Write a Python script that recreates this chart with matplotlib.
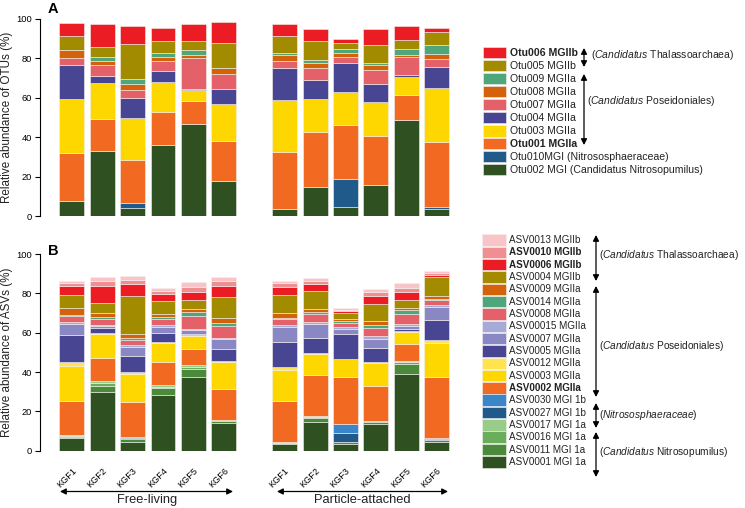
import numpy as np
import matplotlib
matplotlib.use('Agg')
import matplotlib.pyplot as plt
from matplotlib.patches import Rectangle

plt.rcParams['font.family'] = ['Liberation Sans', 'DejaVu Sans']
plt.rcParams['mathtext.fontset'] = 'custom'
plt.rcParams['mathtext.rm'] = 'Liberation Sans'
plt.rcParams['mathtext.it'] = 'Liberation Sans:italic'

samples = ['KGF1', 'KGF2', 'KGF3', 'KGF4', 'KGF5', 'KGF6'] * 2
groups = ['Free-living', 'Particle-attached']

# panel A, stacked bottom -> top
otu_names = ['Otu002 MGI (Candidatus Nitrosopumilus)', 'Otu010MGI (Nitrososphaeraceae)',
             'Otu001 MGIIa', 'Otu003 MGIIa', 'Otu004 MGIIa', 'Otu007 MGIIa',
             'Otu008 MGIIa', 'Otu009 MGIIa', 'Otu005 MGIIb', 'Otu006 MGIIb']
otu_bold = ['Otu001 MGIIa', 'Otu006 MGIIb']
otu_colors = ['#2f5020', '#1f5a8a', '#f26a22', '#fed700', '#484593', '#e5616a',
              '#d4620a', '#4ea67a', '#a38b00', '#ec1c24']
otu002 = [7.8, 33.2, 4.2, 36.0, 46.5, 17.9, 3.6, 14.9, 4.4, 15.7, 48.9, 3.6]
otu010 = [0, 0, 2.2, 0, 0, 0, 0, 0, 14.6, 0, 0, 0.8]
otu001 = [24.2, 16.2, 21.9, 17.0, 11.7, 20.2, 29.1, 27.7, 27.4, 24.9, 12.5, 33.3]
otu003 = [27.4, 18.3, 21.6, 14.9, 5.8, 18.6, 26.4, 16.8, 16.4, 17.4, 9.3, 27.3]
otu004 = [17.4, 3.4, 9.8, 5.7, 0.5, 7.8, 16.2, 9.6, 15.0, 9.2, 1.0, 10.5]
otu007 = [3.6, 5.5, 4.3, 5.3, 15.5, 7.6, 3.4, 6.1, 2.9, 7.1, 8.8, 4.2]
otu008 = [3.9, 2.1, 2.8, 2.0, 1.7, 3.2, 2.9, 2.4, 1.9, 2.2, 1.4, 2.4]
otu009 = [0, 2.0, 2.7, 1.7, 2.6, 0, 1.0, 1.9, 2.2, 1.0, 2.9, 4.5]
otu005 = [7.2, 4.9, 17.8, 6.2, 4.5, 12.3, 8.9, 9.3, 3.2, 9.1, 4.4, 6.6]
otu006 = [6.3, 11.7, 9.1, 6.5, 8.7, 10.7, 6.1, 6.1, 2.0, 8.5, 7.1, 2.2]
otu_vals = [otu002, otu010, otu001, otu003, otu004, otu007, otu008, otu009, otu005, otu006]

# panel B, stacked bottom -> top
asv_names = ['ASV0001 MGI 1a', 'ASV0011 MGI 1a', 'ASV0016 MGI 1a', 'ASV0017 MGI 1a',
             'ASV0027 MGI 1b', 'ASV0030 MGI 1b', 'ASV0002 MGIIa', 'ASV0003 MGIIa',
             'ASV0012 MGIIa', 'ASV0005 MGIIa', 'ASV0007 MGIIa', 'ASV00015 MGIIa',
             'ASV0008 MGIIa', 'ASV0014 MGIIa', 'ASV0009 MGIIa', 'ASV0004 MGIIb',
             'ASV0006 MGIIb', 'ASV0010 MGIIb', 'ASV0013 MGIIb']
asv_bold = ['ASV0002 MGIIa', 'ASV0006 MGIIb', 'ASV0010 MGIIb']
asv_colors = ['#2f5020', '#4a8a3a', '#6aad5a', '#99cc88', '#1f5a8a', '#3a86c8',
              '#f26a22', '#fed700', '#ffe44f', '#484593', '#8a88c4', '#a6aad6',
              '#e5616a', '#4ea67a', '#d4620a', '#a38b00', '#ec1c24', '#f08f92', '#f8c4c8']
asv0001 = [6.6, 30.0, 4.6, 28.3, 37.3, 13.9, 3.4, 14.7, 3.2, 13.4, 39.0, 4.6]
asv0011 = [0.4, 3.1, 1.2, 3.4, 4.1, 1.2, 0.4, 1.7, 1.0, 1.3, 5.1, 0.8]
asv0016 = [0.4, 1.1, 0, 0.8, 1.1, 0.7, 0.3, 0.9, 0, 0.4, 1.0, 0]
asv0017 = [0.4, 1.1, 0, 1.1, 0.9, 0, 0.3, 0.5, 0, 0, 0.7, 0]
asv0027 = [0, 0, 0.6, 0, 0, 0, 0, 0, 5.0, 0, 0, 0.5]
asv0030 = [0, 0, 0.7, 0, 0, 0, 0, 0, 4.5, 0, 0, 0.5]
asv0002 = [17.5, 11.6, 17.8, 11.7, 8.5, 15.6, 20.7, 20.5, 23.6, 18.0, 8.3, 31.2]
asv0003 = [17.9, 12.3, 14.1, 9.4, 6.4, 13.5, 16.1, 10.7, 9.1, 11.3, 6.2, 17.0]
asv0012 = [1.7, 0.6, 0.8, 0.6, 0.7, 0.9, 1.5, 0.5, 0.2, 0.7, 0.4, 1.7]
asv0005 = [14.1, 2.6, 8.3, 4.4, 0.5, 6.1, 12.7, 7.6, 12.6, 6.9, 1.0, 10.1]
asv0007 = [5.4, 1.2, 4.8, 3.4, 1.9, 4.9, 7.3, 7.3, 2.8, 4.9, 1.7, 6.5]
asv00015 = [0.9, 0.3, 0.7, 0.6, 0.6, 0.7, 1.4, 1.0, 0.7, 1.4, 0.8, 1.0]
asv0008 = [3.2, 2.9, 2.7, 3.1, 6.3, 5.9, 2.8, 4.1, 2.4, 4.2, 5.3, 2.7]
asv0014 = [0.7, 1.0, 1.0, 1.0, 2.4, 1.3, 0.7, 1.0, 0.7, 1.6, 1.9, 0.7]
asv0009 = [3.2, 2.0, 1.9, 1.9, 1.2, 2.9, 2.2, 1.4, 1.0, 1.8, 1.0, 1.5]
asv0004 = [6.9, 5.5, 19.4, 6.2, 4.7, 10.4, 9.4, 9.5, 3.2, 8.5, 4.2, 9.3]
asv0006 = [4.6, 8.4, 6.0, 3.9, 4.2, 5.7, 4.2, 3.3, 1.0, 4.2, 3.9, 1.4]
asv0010 = [1.2, 2.7, 2.0, 1.4, 2.4, 2.7, 1.7, 1.7, 0.7, 1.9, 2.2, 0.8]
asv0013 = [1.0, 1.7, 2.2, 1.7, 2.6, 1.7, 1.3, 1.6, 0.8, 1.5, 2.4, 1.1]
asv_vals = [asv0001, asv0011, asv0016, asv0017, asv0027, asv0030, asv0002, asv0003,
            asv0012, asv0005, asv0007, asv00015, asv0008, asv0014, asv0009, asv0004,
            asv0006, asv0010, asv0013]

xpos = np.array([0, 1, 2, 3, 4, 5, 7, 8, 9, 10, 11, 12])

W, H = 745, 508
fig = plt.figure(figsize=(W / 100, H / 100), dpi=100)

def px_axes(left, top, right, bottom):
    return fig.add_axes([left / W, 1 - bottom / H, (right - left) / W, (bottom - top) / H])

def stacked(ax, vals, colors, ylabel):
    bottom = np.zeros(len(xpos))
    for v, c in zip(vals, colors):
        v = np.array(v)
        ax.bar(xpos, v, bottom=bottom, width=0.82, color=c, edgecolor='#f4f0f0', linewidth=0.4)
        bottom += v
    ax.set_xlim(-1.045, 12.6)
    ax.set_ylim(0, 100)
    ax.set_yticks([0, 20, 40, 60, 80, 100])
    for s in ['top', 'right', 'bottom']:
        ax.spines[s].set_visible(False)
    ax.spines['left'].set_linewidth(0.8)
    ax.tick_params(axis='y', labelsize=6.7, length=3.5, width=0.8, pad=2)
    ax.set_ylabel(ylabel, fontsize=8.4, color='#222222')
    ax.yaxis.set_label_coords(-0.066, 0.5)

axA = px_axes(40, 19, 455, 216)
stacked(axA, otu_vals, otu_colors, 'Relative abundance of OTUs (%)')
axA.set_xticks([])

axB = px_axes(40, 254, 455, 450.7)
stacked(axB, asv_vals, asv_colors, 'Relative abundance of ASVs (%)')
axB.set_xticks(xpos)
axB.set_xticklabels(samples, rotation=45, ha='right', rotation_mode='anchor', fontsize=6.6)
axB.tick_params(axis='x', length=0, pad=11)

# overlay in pixel coordinates for legends and annotations
ov = fig.add_axes([0, 0, 1, 1])
ov.set_xlim(0, W)
ov.set_ylim(H, 0)
ov.axis('off')

ov.text(48, 9, 'A', fontsize=10.5, fontweight='bold', va='center')
ov.text(48, 251, 'B', fontsize=10.5, fontweight='bold', va='center')

def legend(names, colors, bold, y_top, step, px0, fs):
    for i, (n, c) in enumerate(zip(names[::-1], colors[::-1])):
        y = y_top + i * step
        ov.add_patch(Rectangle((px0, y - 5.8), 23.5, 11.6, facecolor=c, edgecolor='#f4f0f0', lw=0.4))
        ov.text(px0 + 27, y, n, fontsize=fs, va='center',
                fontweight='bold' if n in bold else 'normal', color='#222222')

legend(otu_names, otu_colors, otu_bold, 52.7, 13.0, 482.5, 7.6)
legend(asv_names, asv_colors, asv_bold, 240.0, 12.33, 482, 7.1)

def darrow(x0, y0, x1, y1):
    ov.annotate('', xy=(x1, y1), xytext=(x0, y0),
                arrowprops=dict(arrowstyle='<|-|>,head_length=0.35,head_width=0.18',
                                color='black', lw=0.9, shrinkA=0, shrinkB=0))

# panel A brackets
darrow(584, 48, 584, 67)
ov.text(591, 55, r'($\it{Candidatus}$ Thalassoarchaea)', fontsize=7.5, va='center', color='#222222')
darrow(584, 74, 584, 145)
ov.text(587, 101, r'($\it{Candidatus}$ Poseidoniales)', fontsize=7.5, va='center', color='#222222')

# panel B brackets
darrow(596, 235, 596, 281)
ov.text(599, 255, r'($\it{Candidatus}$ Thalassoarchaea)', fontsize=7.3, va='center', color='#222222')
darrow(596, 286, 596, 397)
ov.text(599, 346, r'($\it{Candidatus}$ Poseidoniales)', fontsize=7.3, va='center', color='#222222')
darrow(596, 403, 596, 428)
ov.text(599, 415, r'($\it{Nitrososphaeraceae}$)', fontsize=7.3, va='center', color='#222222')
darrow(596, 432, 596, 477)
ov.text(599, 452, r'($\it{Candidatus}$ Nitrosopumilus)', fontsize=7.3, va='center', color='#222222')

# group arrows under panel B
darrow(60, 491.5, 233, 491.5)
ov.text(147, 500, groups[0], fontsize=9.3, ha='center', va='center', color='#222222')
darrow(277, 491.5, 448, 491.5)
ov.text(362, 500, groups[1], fontsize=9.3, ha='center', va='center', color='#222222')

fig.savefig('out.png', dpi=100, facecolor='white')
